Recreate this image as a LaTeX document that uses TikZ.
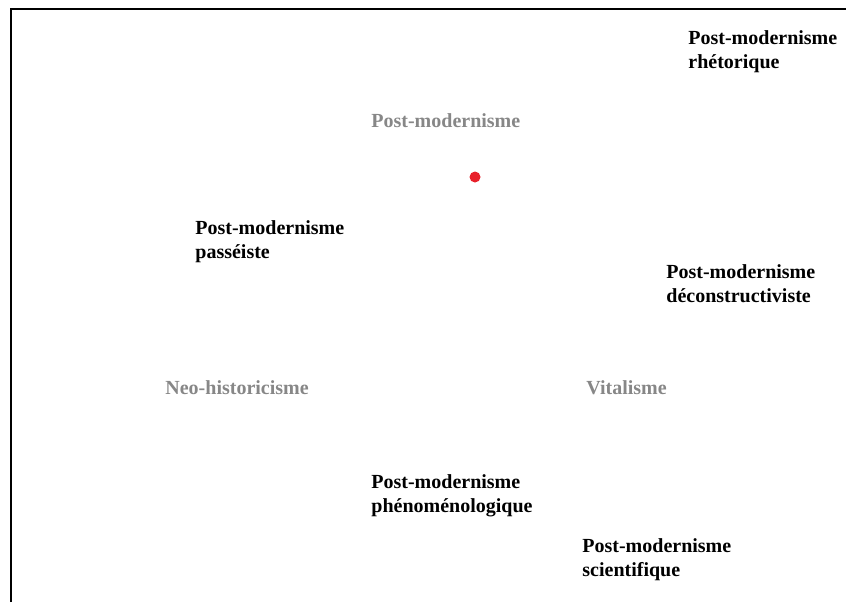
\documentclass[tikz,border=0pt]{standalone}
\usepackage{fontspec}
\setmainfont{Liberation Serif}
\definecolor{axisgray}{HTML}{878787}
\definecolor{dotred}{HTML}{E8202A}
\tikzset{
  label/.style={anchor=west,inner sep=0pt,align=left,font=\fontsize{10}{12}\selectfont\bfseries},
  axis/.style={label,text=axisgray}
}

\begin{document}
\begin{tikzpicture}[x=0.5pt,y=-0.5pt]
  \useasboundingbox (0,0) rectangle (846,602);
  \draw[line width=1pt] (10.5,602) -- (10.5,8.5) -- (846,8.5);
  \fill[dotred] (475,177) circle [radius=5.5];
  \node[coordinate] (centre) at (475,177) {};
  \node[axis] (pm) at (371,121) {Post-modernisme};
  \node[axis] (neo) at (165,388) {Neo-historicisme};
  \node[axis] (vital) at (586,388) {Vitalisme};
  \node[label] (rhet) at (688,52) {Post-modernisme\\rhétorique};
  \node[label] (pass) at (195,242) {Post-modernisme\\passéiste};
  \node[label] (decon) at (666,284) {Post-modernisme\\déconstructiviste};
  \node[label] (pheno) at (371,496) {Post-modernisme\\phénoménologique};
  \node[label] (scien) at (582,560) {Post-modernisme\\scientifique};
\end{tikzpicture}
\end{document}
